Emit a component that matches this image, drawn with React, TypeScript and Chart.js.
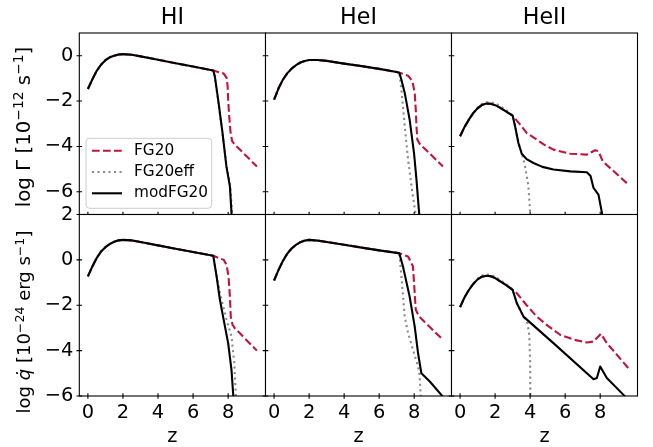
import React, { useEffect, useRef } from "react";
import { Chart, registerables } from "chart.js";
Chart.register(...registerables);

// ---------------- data ----------------
const panelTitles = ["HI", "HeI", "HeII"];
const seriesLabels = ["FG20", "FG20eff", "modFG20"];
const zTicks = [0, 2, 4, 6, 8];
const gammaTicks = [0, -2, -4, -6];
const qdotTicks = [2, 0, -2, -4, -6];

// common low-redshift part (HI, HeI)
const zLow = [0, 0.25, 0.5, 0.75, 1, 1.25, 1.5, 1.75, 2, 2.5, 3, 4, 5, 6, 7, 7.15];
const hiGammaLow = [-1.47, -1.05, -0.67, -0.4, -0.2, -0.07, 0.0, 0.05, 0.07, 0.04, -0.03, -0.18, -0.33, -0.48, -0.63, -0.65];
const heiGammaLow = [-1.94, -1.45, -1.06, -0.78, -0.57, -0.42, -0.3, -0.23, -0.19, -0.19, -0.23, -0.35, -0.46, -0.58, -0.72, -0.75];
const hiQdotLow = [-0.73, -0.3, 0.08, 0.37, 0.56, 0.7, 0.8, 0.86, 0.88, 0.86, 0.79, 0.64, 0.49, 0.35, 0.2, 0.18];
const heiQdotLow = [-0.91, -0.45, -0.05, 0.27, 0.5, 0.66, 0.78, 0.85, 0.88, 0.85, 0.79, 0.67, 0.54, 0.42, 0.31, 0.29];

// common low-redshift part (HeII)
const zLowHeII = [0, 0.25, 0.5, 0.75, 1, 1.25, 1.5, 1.75, 2, 2.25, 2.5, 2.75, 3];
const heiiGammaLow = [-3.55, -3.15, -2.82, -2.53, -2.32, -2.17, -2.11, -2.12, -2.18, -2.28, -2.4, -2.52, -2.64];
const heiiGammaEffLow = [-3.55, -3.15, -2.82, -2.52, -2.29, -2.12, -2.05, -2.05, -2.1, -2.2, -2.33, -2.47, -2.62];
const heiiQdotLow = [-2.08, -1.66, -1.33, -1.06, -0.86, -0.74, -0.7, -0.72, -0.8, -0.93, -1.05, -1.18, -1.32];
const heiiQdotEffLow = [-2.08, -1.66, -1.33, -1.05, -0.83, -0.69, -0.64, -0.65, -0.74, -0.87, -1.0, -1.14, -1.3];

// HI, Gamma tails
const hiGammaFg20Z = [7.75, 7.91, 7.97, 8.0, 8.06, 8.14, 8.23, 8.38, 9.64];
const hiGammaFg20 = [-0.79, -0.98, -1.35, -1.94, -2.67, -3.41, -3.77, -3.92, -4.88];
const hiGammaEffZ = [7.24, 7.43, 7.68, 7.92, 8.13, 8.22, 8.3];
const hiGammaEff = [-0.95, -2.0, -3.45, -4.9, -5.8, -6.93, -8];
const hiGammaModZ = [7.24, 7.43, 7.68, 7.9, 8.1, 8.19, 8.26];
const hiGammaMod = [-0.91, -1.94, -3.41, -4.88, -5.76, -6.93, -8];

// HeI, Gamma tails
const heiGammaFg20Z = [7.65, 7.9, 8.03, 8.09, 8.13, 8.18, 8.31, 9.64];
const heiGammaFg20 = [-0.88, -1.13, -1.64, -2.38, -3.11, -3.7, -3.88, -4.88];
const heiGammaEffZ = [7.27, 7.46, 7.65, 7.9, 8.07, 8.15];
const heiGammaEff = [-1.5, -3.11, -4.58, -6.05, -6.93, -8];
const heiGammaModZ = [7.27, 7.46, 7.74, 7.99, 8.13, 8.28, 8.35];
const heiGammaMod = [-1.06, -1.64, -2.82, -4.29, -5.46, -6.93, -8];

// HeII, Gamma tails
const heiiGammaFg20Z = [3.43, 3.81, 4.38, 4.86, 5.33, 6.29, 7.24, 7.71, 7.9, 8.15, 9.64];
const heiiGammaFg20 = [-3.04, -3.41, -3.7, -3.95, -4.14, -4.32, -4.36, -4.17, -4.21, -4.66, -5.7];
const heiiGammaEffZ = [3.14, 3.33, 3.55, 3.71, 3.9, 4.0, 4.03];
const heiiGammaEff = [-3.1, -3.83, -4.35, -4.88, -5.76, -6.93, -8];
const heiiGammaModZ = [3.14, 3.33, 3.52, 3.8, 4.19, 4.7, 5.33, 6.3, 7.24, 7.45, 7.62, 7.9, 8.1, 8.2];
const heiiGammaMod = [-3.11, -3.85, -4.32, -4.56, -4.73, -4.9, -5.02, -5.1, -5.14, -5.3, -5.83, -6.12, -6.93, -8];

// HI, qdot tails
const hiQdotFg20Z = [7.75, 7.91, 8.02, 8.1, 8.15, 8.25, 8.38, 9.64];
const hiQdotFg20 = [0.0, -0.22, -0.73, -1.62, -2.5, -2.86, -3.01, -4.0];
const hiQdotEffZ = [7.3, 7.53, 7.91, 8.19, 8.35, 8.44, 8.5];
const hiQdotEff = [-0.5, -1.47, -2.64, -3.38, -4.55, -5.95, -7];
const hiQdotModZ = [7.34, 7.53, 7.71, 8.0, 8.19, 8.29, 8.35];
const hiQdotMod = [-0.73, -1.76, -2.5, -3.67, -4.85, -5.95, -7];

// HeI, qdot tails
const heiQdotFg20Z = [7.65, 7.93, 8.09, 8.28, 9.64];
const heiQdotFg20 = [0.15, -0.29, -2.2, -2.5, -3.52];
const heiQdotEffZ = [7.27, 7.46, 7.65, 7.93, 8.22, 8.31, 8.37, 8.42];
const heiQdotEff = [-0.73, -2.5, -3.23, -3.96, -4.7, -5.07, -5.95, -7];
const heiQdotModZ = [7.36, 7.74, 8.03, 8.22, 8.41, 8.89, 9.55, 9.64];
const heiQdotMod = [-0.29, -1.62, -2.94, -4.11, -5.0, -5.36, -5.95, -6.05];

// HeII, qdot tails
const heiiQdotFg20Z = [3.24, 3.8, 4.38, 5.0, 5.71, 6.5, 7.24, 7.62, 8.04, 8.38, 9.64];
const heiiQdotFg20 = [-1.47, -2.0, -2.5, -2.9, -3.3, -3.52, -3.64, -3.6, -3.26, -3.67, -4.8];
const heiiQdotEffZ = [3.24, 3.43, 3.62, 3.85, 3.95, 4.0, 4.02];
const heiiQdotEff = [-1.91, -2.2, -2.5, -2.8, -3.3, -4.5, -7];
const heiiQdotModZ = [3.24, 3.43, 3.62, 5.33, 7.62, 7.81, 8.0, 8.38, 9.33, 9.64];
const heiiQdotMod = [-1.91, -2.2, -2.5, -3.67, -5.26, -5.21, -4.7, -5.21, -5.95, -6.2];

// ---------------- layout / style ----------------
const W = 653;
const H = 447;
const colLeft = [79.3, 265.5, 451.5];
const colRight = [265.5, 451.5, 637.5];
const rowTop = [33, 214.5];
const rowBottom = [214.5, 396];
const X_MIN = -0.49;
const X_MAX = 10.13;
const FONT = "'DejaVu Sans', sans-serif";
const TICK_SIZE = 19.4;
const RED = "#c0143c";
const GRAY = "#8a8a8a";
const LW = 2.1;

const joined = (zl: number[], vl: number[], zt: number[], vt: number[]) =>
  [...zl, ...zt].map((z, i) => ({ x: z, y: [...vl, ...vt][i] }));

const fmt = (v: number) => (v < 0 ? "\u2212" + Math.abs(v) : String(v));

type PanelSpec = {
  row: number;
  col: number;
  fg20: { x: number; y: number }[];
  eff: { x: number; y: number }[];
  mod: { x: number; y: number }[];
  yMin: number;
  yMax: number;
  yTicks: number[];
  legend: boolean;
};

const panels: PanelSpec[] = [
  {
    row: 0, col: 0, yMin: -7, yMax: 1, yTicks: gammaTicks, legend: true,
    fg20: joined(zLow, hiGammaLow, hiGammaFg20Z, hiGammaFg20),
    eff: joined(zLow, hiGammaLow, hiGammaEffZ, hiGammaEff),
    mod: joined(zLow, hiGammaLow, hiGammaModZ, hiGammaMod),
  },
  {
    row: 0, col: 1, yMin: -7, yMax: 1, yTicks: gammaTicks, legend: false,
    fg20: joined(zLow, heiGammaLow, heiGammaFg20Z, heiGammaFg20),
    eff: joined(zLow, heiGammaLow, heiGammaEffZ, heiGammaEff),
    mod: joined(zLow, heiGammaLow, heiGammaModZ, heiGammaMod),
  },
  {
    row: 0, col: 2, yMin: -7, yMax: 1, yTicks: gammaTicks, legend: false,
    fg20: joined(zLowHeII, heiiGammaLow, heiiGammaFg20Z, heiiGammaFg20),
    eff: joined(zLowHeII, heiiGammaEffLow, heiiGammaEffZ, heiiGammaEff),
    mod: joined(zLowHeII, heiiGammaLow, heiiGammaModZ, heiiGammaMod),
  },
  {
    row: 1, col: 0, yMin: -6, yMax: 2, yTicks: qdotTicks, legend: false,
    fg20: joined(zLow, hiQdotLow, hiQdotFg20Z, hiQdotFg20),
    eff: joined(zLow, hiQdotLow, hiQdotEffZ, hiQdotEff),
    mod: joined(zLow, hiQdotLow, hiQdotModZ, hiQdotMod),
  },
  {
    row: 1, col: 1, yMin: -6, yMax: 2, yTicks: qdotTicks, legend: false,
    fg20: joined(zLow, heiQdotLow, heiQdotFg20Z, heiQdotFg20),
    eff: joined(zLow, heiQdotLow, heiQdotEffZ, heiQdotEff),
    mod: joined(zLow, heiQdotLow, heiQdotModZ, heiQdotMod),
  },
  {
    row: 1, col: 2, yMin: -6, yMax: 2, yTicks: qdotTicks, legend: false,
    fg20: joined(zLowHeII, heiiQdotLow, heiiQdotFg20Z, heiiQdotFg20),
    eff: joined(zLowHeII, heiiQdotEffLow, heiiQdotEffZ, heiiQdotEff),
    mod: joined(zLowHeII, heiiQdotLow, heiiQdotModZ, heiiQdotMod),
  },
];

function makeFramePlugin(p: PanelSpec) {
  return {
    id: "frame" + p.row + p.col,
    beforeDraw(chart: any) {
      const { ctx, chartArea: a } = chart;
      ctx.save();
      ctx.fillStyle = "#ffffff";
      ctx.fillRect(a.left, a.top, a.right - a.left, a.bottom - a.top);
      ctx.restore();
    },
    afterDatasetsDraw(chart: any) {
      const { ctx, chartArea: a } = chart;
      const xs = chart.scales.x;
      const ys = chart.scales.y;
      ctx.save();
      ctx.strokeStyle = "#000";
      ctx.lineWidth = 1.1;
      ctx.strokeRect(a.left, a.top, a.right - a.left, a.bottom - a.top);
      ctx.beginPath();
      for (const v of zTicks) {
        const px = xs.getPixelForValue(v);
        ctx.moveTo(px, a.bottom - 2.8);
        ctx.lineTo(px, a.bottom + 2.8);
      }
      for (const v of p.yTicks) {
        const py = ys.getPixelForValue(v);
        ctx.moveTo(a.left - 2.8, py);
        ctx.lineTo(a.left + 2.8, py);
      }
      ctx.stroke();
      ctx.restore();
    },
    afterDraw(chart: any) {
      if (!p.legend) return;
      const { ctx } = chart;
      const lx = 86, ly = 138.3, lw = 125.7, lh = 70, r = 3.5;
      ctx.save();
      ctx.beginPath();
      ctx.moveTo(lx + r, ly);
      ctx.arcTo(lx + lw, ly, lx + lw, ly + lh, r);
      ctx.arcTo(lx + lw, ly + lh, lx, ly + lh, r);
      ctx.arcTo(lx, ly + lh, lx, ly, r);
      ctx.arcTo(lx, ly, lx + lw, ly, r);
      ctx.closePath();
      ctx.fillStyle = "rgba(255,255,255,0.8)";
      ctx.fill();
      ctx.strokeStyle = "#cccccc";
      ctx.lineWidth = 1;
      ctx.stroke();
      chart.data.datasets.forEach((ds: any, i: number) => {
        const y = 150.7 + i * 21.3;
        ctx.beginPath();
        ctx.setLineDash(ds.borderDash || []);
        ctx.strokeStyle = ds.borderColor;
        ctx.lineWidth = ds.borderWidth;
        ctx.moveTo(92, y);
        ctx.lineTo(122, y);
        ctx.stroke();
        ctx.setLineDash([]);
        ctx.fillStyle = "#000";
        ctx.font = "15.3px " + FONT;
        ctx.textBaseline = "middle";
        ctx.textAlign = "left";
        ctx.fillText(ds.label, 134, y);
      });
      ctx.restore();
    },
  };
}

function Panel({ p }: { p: PanelSpec }) {
  const ref = useRef<HTMLCanvasElement>(null);
  useEffect(() => {
    const showY = p.col === 0;
    const showX = p.row === 1;
    const common = { pointRadius: 0, fill: false, tension: 0, borderJoinStyle: "round" as const };
    const chart = new Chart(ref.current as HTMLCanvasElement, {
      type: "line",
      data: {
        datasets: [
          { ...common, label: seriesLabels[0], data: p.fg20, borderColor: RED, borderDash: [7.7, 3.3], borderWidth: LW, order: 3 },
          { ...common, label: seriesLabels[1], data: p.eff, borderColor: GRAY, borderDash: [2.1, 3.4], borderWidth: LW, order: 2 },
          { ...common, label: seriesLabels[2], data: p.mod, borderColor: "#000000", borderWidth: LW, order: 1 },
        ],
      },
      options: {
        responsive: false,
        animation: false,
        events: [],
        layout: {
          padding: {
            left: showY ? 0 : colLeft[p.col],
            right: W - colRight[p.col],
            top: rowTop[p.row],
            bottom: showX ? 0 : H - rowBottom[p.row],
          },
        },
        plugins: { legend: { display: false }, tooltip: { enabled: false }, title: { display: false } },
        scales: {
          x: {
            type: "linear",
            min: X_MIN,
            max: X_MAX,
            display: showX,
            afterBuildTicks: (s: any) => {
              s.ticks = zTicks.map((v) => ({ value: v }));
            },
            afterFit: (s: any) => {
              if (showX) s.height = H - rowBottom[p.row];
            },
            grid: { display: false, drawTicks: false },
            border: { display: false },
            ticks: {
              display: showX,
              autoSkip: false,
              maxRotation: 0,
              padding: 5,
              color: "#000",
              font: { family: FONT, size: TICK_SIZE },
              callback: (v: any) => fmt(Number(v)),
            },
            title: {
              display: showX,
              text: "z",
              color: "#000",
              padding: 0,
              font: { family: FONT, size: TICK_SIZE, lineHeight: 1 },
            },
          },
          y: {
            type: "linear",
            min: p.yMin,
            max: p.yMax,
            display: showY,
            afterBuildTicks: (s: any) => {
              s.ticks = p.yTicks.map((v) => ({ value: v }));
            },
            afterFit: (s: any) => {
              if (showY) s.width = colLeft[0];
            },
            grid: { display: false, drawTicks: false },
            border: { display: false },
            ticks: {
              display: showY,
              autoSkip: false,
              padding: 6,
              color: "#000",
              font: { family: FONT, size: TICK_SIZE },
              callback: (v: any) => fmt(Number(v)),
            },
          },
        },
      },
      plugins: [makeFramePlugin(p)],
    } as any);
    return () => chart.destroy();
  }, [p]);
  return (
    <canvas
      ref={ref}
      width={W}
      height={H}
      style={{ position: "absolute", left: 0, top: 0, width: W, height: H }}
    />
  );
}

const supStyle: React.CSSProperties = { fontSize: "0.7em", position: "relative", top: "-0.5em" };

function YLabel({ cy, size, children }: { cy: number; size: number; children: React.ReactNode }) {
  return (
    <div
      style={{
        position: "absolute",
        left: 23.5,
        top: cy,
        transform: "translate(-50%, -50%) rotate(-90deg)",
        fontFamily: FONT,
        fontSize: size,
        lineHeight: 1,
        whiteSpace: "nowrap",
        color: "#000",
      }}
    >
      {children}
    </div>
  );
}

export default function App() {
  return (
    <div style={{ position: "absolute", left: 0, top: 0, width: W, height: H, background: "#fff", overflow: "hidden" }}>
      {panels.map((p, i) => (
        <Panel key={i} p={p} />
      ))}
      {panelTitles.map((t, i) => (
        <div
          key={t}
          style={{
            position: "absolute",
            left: (colLeft[i] + colRight[i]) / 2,
            top: 4.5,
            transform: "translateX(-50%)",
            fontFamily: FONT,
            fontSize: 22.2,
            lineHeight: 1,
            whiteSpace: "nowrap",
            color: "#000",
          }}
        >
          {t}
        </div>
      ))}
      <YLabel cy={126.5} size={19.8}>
        log Γ [10<span style={supStyle}>−12</span> s<span style={supStyle}>−1</span>]
      </YLabel>
      <YLabel cy={321.5} size={18}>
        log <i>q̇</i> [10<span style={supStyle}>−24</span> erg s<span style={supStyle}>−1</span>]
      </YLabel>
    </div>
  );
}
